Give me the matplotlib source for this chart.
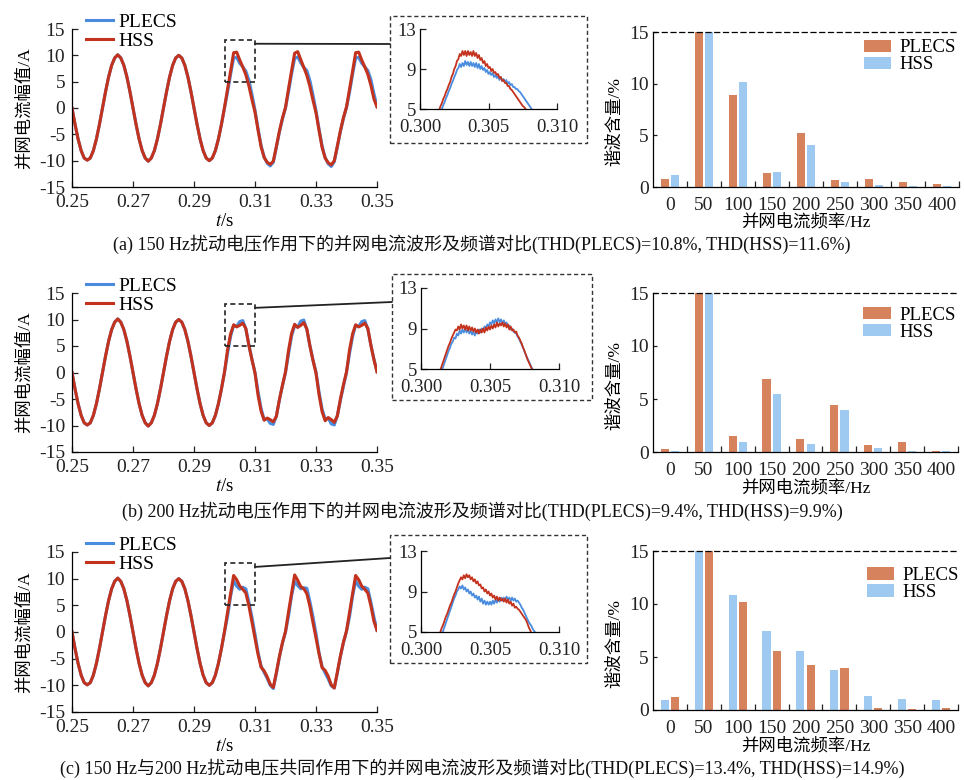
import numpy as np
import matplotlib.pyplot as plt
from matplotlib.patches import Rectangle, ConnectionPatch

plt.rcParams['font.family'] = ['Liberation Serif', 'Noto Sans CJK SC']
plt.rcParams['mathtext.fontset'] = 'stix'
plt.rcParams['axes.unicode_minus'] = False
plt.rcParams['axes.linewidth'] = 0.9
plt.rcParams['xtick.direction'] = 'in'
plt.rcParams['ytick.direction'] = 'in'

# ---- time-domain waveforms, sampled every 1 ms from 0.250 s to 0.350 s ----
# steady state before the disturbance (0.250 ... 0.299 s), same in all cases
i_pre = [0.0, -3.1, -5.9, -8.1, -9.5, -9.9, -9.5, -8.1, -5.9, -3.1,
         0.0, 3.1, 5.9, 8.1, 9.5, 10.1, 9.5, 8.1, 5.9, 3.1,
         0.0, -3.1, -5.9, -8.1, -9.5, -10.1, -9.5, -8.1, -5.9, -3.1,
         0.0, 3.1, 5.9, 8.1, 9.5, 10.0, 9.5, 8.1, 5.9, 3.1,
         0.0, -3.1, -5.9, -8.1, -9.5, -10.0, -9.5, -8.1, -5.9, -3.1]

# disturbed part (0.300 ... 0.350 s)
a_plecs = [0.0, 3.0, 6.4, 9.5, 9.6, 8.5, 7.8, 7.0, 5.3, 2.6,
           -0.4, -3.9, -7.1, -9.3, -10.5, -11.0, -10.3, -7.5, -4.6, -2.1,
           0.0, 3.1, 6.5, 9.4, 9.7, 8.6, 7.7, 7.1, 5.2, 2.5,
           -0.5, -4.0, -7.2, -9.4, -10.6, -11.1, -10.2, -7.4, -4.5, -2.0,
           0.1, 3.0, 6.4, 9.5, 9.6, 8.5, 7.8, 7.1, 5.4, 2.7, 0.3]
a_hss = [0.1, 3.6, 7.0, 10.5, 10.6, 9.1, 7.8, 6.3, 4.2, 1.6,
         -0.8, -4.2, -7.4, -9.4, -10.3, -10.7, -10.1, -7.3, -4.4, -1.9,
         0.1, 3.7, 7.1, 10.4, 10.7, 9.2, 7.7, 6.2, 4.1, 1.5,
         -0.9, -4.3, -7.5, -9.5, -10.4, -10.8, -10.0, -7.2, -4.3, -1.8,
         0.2, 3.6, 7.0, 10.5, 10.6, 9.1, 7.8, 6.4, 4.3, 1.7, 0.2]

b_plecs = [0.0, 3.6, 6.8, 8.9, 8.7, 9.6, 9.8, 8.2, 5.2, 2.5,
           0.0, -3.6, -6.8, -8.9, -8.7, -9.6, -9.8, -8.2, -5.2, -2.5,
           0.0, 3.5, 6.9, 8.8, 8.6, 9.7, 9.9, 8.1, 5.1, 2.4,
           0.1, -3.7, -6.9, -8.8, -8.6, -9.7, -9.9, -8.1, -5.3, -2.6,
           0.0, 3.6, 6.8, 8.9, 8.7, 9.6, 9.8, 8.2, 5.2, 2.5, 0.2]
b_hss = [0.1, 4.3, 7.3, 9.0, 8.6, 8.9, 9.3, 8.3, 5.1, 2.4,
         -0.1, -4.3, -7.3, -9.0, -8.6, -8.9, -9.3, -8.3, -5.1, -2.4,
         0.1, 4.2, 7.4, 9.1, 8.5, 8.9, 9.4, 8.2, 5.0, 2.3,
         -0.1, -4.2, -7.4, -9.1, -8.5, -8.9, -9.4, -8.2, -5.0, -2.3,
         0.1, 4.3, 7.3, 9.0, 8.6, 8.9, 9.3, 8.3, 5.1, 2.4, 0.1]

c_plecs = [0.0, 2.9, 6.7, 9.6, 8.6, 8.0, 8.4, 8.1, 5.6, 2.8,
           -0.4, -3.8, -6.4, -7.6, -8.7, -10.0, -10.6, -7.8, -4.7, -2.1,
           0.0, 3.0, 6.8, 9.5, 8.7, 8.1, 8.3, 8.2, 5.7, 2.9,
           -0.3, -3.9, -6.5, -7.7, -8.8, -10.1, -10.5, -7.7, -4.6, -2.0,
           0.1, 2.9, 6.7, 9.6, 8.6, 8.0, 8.4, 8.1, 5.6, 2.8, 0.3]
c_hss = [0.1, 3.7, 7.2, 10.6, 9.8, 8.6, 8.0, 7.3, 4.9, 1.9,
         -1.2, -4.2, -6.6, -7.3, -8.4, -9.8, -10.4, -7.6, -4.6, -2.0,
         0.1, 3.8, 7.3, 10.7, 9.7, 8.5, 8.1, 7.2, 4.8, 1.8,
         -1.1, -4.1, -6.7, -7.2, -8.3, -9.9, -10.5, -7.5, -4.5, -1.9,
         0.2, 3.7, 7.2, 10.6, 9.8, 8.6, 8.0, 7.3, 4.9, 2.0, 0.3]

# ---- zoomed waveforms, sampled every 0.1 ms from 0.3010 s to 0.3090 s ----
za_plecs = [3.0, 3.3, 3.7, 4.0, 4.4, 4.7, 5.0, 5.4, 5.7, 6.1,
            6.4, 6.8, 7.1, 7.5, 7.8, 8.2, 8.5, 8.9, 9.1, 9.5,
            9.2, 9.6, 9.3, 9.8, 9.4, 9.7, 9.3, 9.7, 9.3, 9.6,
            9.2, 9.6, 9.1, 9.5, 9.0, 9.3, 8.9, 9.1, 8.7, 8.9,
            8.5, 8.7, 8.4, 8.6, 8.2, 8.4, 8.1, 8.3, 7.9, 8.2,
            7.8, 8.0, 7.7, 7.9, 7.5, 7.7, 7.4, 7.5, 7.2, 7.2,
            7.0, 7.0, 6.8, 6.7, 6.5, 6.3, 6.1, 5.9, 5.7, 5.5,
            5.3, 5.1, 4.9, 4.6, 4.3, 4.0, 3.7, 3.4, 3.1, 2.8,
            2.5]
za_hss = [3.6, 3.9, 4.3, 4.6, 4.9, 5.3, 5.6, 6.0, 6.3, 6.7,
          7.0, 7.4, 7.7, 8.2, 8.5, 9.0, 9.3, 9.8, 10.0, 10.5,
          10.3, 10.8, 10.4, 10.8, 10.3, 10.8, 10.4, 10.7, 10.3, 10.8,
          10.3, 10.6, 10.1, 10.4, 9.9, 10.1, 9.6, 9.8, 9.3, 9.5,
          9.1, 9.2, 8.8, 9.0, 8.6, 8.7, 8.4, 8.5, 8.1, 8.2,
          7.8, 7.9, 7.6, 7.6, 7.3, 7.3, 7.0, 6.9, 6.7, 6.5,
          6.3, 6.1, 5.9, 5.7, 5.5, 5.3, 5.2, 5.0, 4.8, 4.5,
          4.2, 3.9, 3.6, 3.3, 3.0, 2.7, 2.4, 2.1, 1.8, 1.5,
          1.2]
zb_plecs = [3.2, 3.6, 3.9, 4.3, 4.6, 4.9, 5.2, 5.6, 6.0, 6.4,
            6.8, 7.1, 7.5, 7.7, 8.1, 8.0, 8.5, 8.3, 8.8, 8.5,
            8.9, 8.6, 9.0, 8.6, 8.9, 8.5, 8.8, 8.4, 8.7, 8.3,
            8.7, 8.5, 8.9, 8.6, 9.0, 8.8, 9.2, 9.0, 9.4, 9.2,
            9.6, 9.4, 9.8, 9.5, 9.9, 9.6, 10.0, 9.6, 9.9, 9.5,
            9.8, 9.4, 9.6, 9.2, 9.3, 8.9, 9.0, 8.7, 8.6, 8.5,
            8.2, 8.0, 7.7, 7.4, 7.1, 6.7, 6.4, 6.1, 5.8, 5.5,
            5.2, 4.9, 4.6, 4.3, 4.0, 3.7, 3.4, 3.1, 2.8, 2.5,
            2.2]
zb_hss = [3.6, 4.0, 4.3, 4.6, 4.9, 5.3, 5.7, 6.1, 6.5, 6.9,
          7.3, 7.6, 8.0, 8.3, 8.6, 8.9, 8.8, 9.2, 8.9, 9.4,
          9.0, 9.3, 8.9, 9.3, 8.8, 9.2, 8.8, 9.1, 8.7, 9.0,
          8.6, 8.9, 8.5, 8.9, 8.6, 9.0, 8.6, 9.1, 8.8, 9.2,
          8.9, 9.3, 9.0, 9.4, 9.1, 9.6, 9.2, 9.5, 9.3, 9.6,
          9.2, 9.5, 9.1, 9.4, 8.9, 9.2, 8.8, 8.9, 8.6, 8.7,
          8.3, 8.1, 7.8, 7.5, 7.1, 6.8, 6.4, 6.0, 5.7, 5.4,
          5.1, 4.8, 4.5, 4.2, 3.9, 3.6, 3.3, 3.0, 2.7, 2.4,
          2.1]
zc_plecs = [2.9, 3.3, 3.7, 4.1, 4.4, 4.8, 5.1, 5.5, 5.9, 6.3,
            6.7, 7.1, 7.5, 7.9, 8.3, 8.6, 9.0, 9.2, 9.5, 9.3,
            9.6, 9.2, 9.4, 9.0, 9.2, 8.8, 9.0, 8.6, 8.8, 8.4,
            8.6, 8.2, 8.5, 8.0, 8.3, 7.8, 8.1, 7.7, 8.0, 7.7,
            8.0, 7.7, 8.1, 7.8, 8.2, 7.9, 8.3, 8.0, 8.4, 8.1,
            8.4, 8.1, 8.5, 8.2, 8.4, 8.1, 8.4, 8.1, 8.3, 8.0,
            8.1, 7.9, 7.7, 7.4, 7.2, 6.9, 6.6, 6.3, 6.0, 5.8,
            5.6, 5.3, 5.1, 4.9, 4.6, 4.3, 4.0, 3.7, 3.4, 3.1,
            2.8]
zc_hss = [3.7, 4.1, 4.4, 4.7, 5.0, 5.4, 5.7, 6.1, 6.5, 6.8,
          7.2, 7.6, 7.9, 8.3, 8.7, 9.0, 9.4, 9.8, 10.1, 10.4,
          10.2, 10.6, 10.3, 10.7, 10.4, 10.6, 10.2, 10.4, 10.0, 10.2,
          9.8, 10.0, 9.6, 9.7, 9.3, 9.4, 9.0, 9.2, 8.8, 9.0,
          8.6, 8.8, 8.4, 8.6, 8.2, 8.5, 8.1, 8.4, 8.1, 8.3,
          8.0, 8.3, 7.9, 8.2, 7.8, 8.0, 7.6, 7.8, 7.4, 7.5,
          7.3, 7.2, 7.0, 6.8, 6.6, 6.4, 6.2, 5.9, 5.5, 5.2,
          4.9, 4.6, 4.3, 4.0, 3.7, 3.4, 3.1, 2.8, 2.5, 2.2,
          1.9]

# ---- harmonic spectra (%), 50 Hz fundamental is 100 % and runs off the axis ----
freq_labels = ['0', '50', '100', '150', '200', '250', '300', '350', '400']
a_bar_plecs = [0.75, 100, 8.9, 1.35, 5.2, 0.7, 0.8, 0.5, 0.3]
a_bar_hss = [1.2, 100, 10.15, 1.45, 4.1, 0.45, 0.15, 0.12, 0.12]
b_bar_plecs = [0.25, 100, 1.5, 6.85, 1.25, 4.4, 0.62, 0.95, 0.05]
b_bar_hss = [0.05, 100, 0.95, 5.45, 0.72, 3.95, 0.35, 0.12, 0.05]
c_bar_plecs = [1.25, 100, 10.2, 5.6, 4.25, 4.0, 0.15, 0.1, 0.15]
c_bar_hss = [0.95, 100, 10.85, 7.45, 5.6, 3.75, 1.35, 1.05, 0.95]

captions = [
    '(a) 150 Hz扰动电压作用下的并网电流波形及频谱对比(THD(PLECS)=10.8%, THD(HSS)=11.6%)',
    '(b) 200 Hz扰动电压作用下的并网电流波形及频谱对比(THD(PLECS)=9.4%, THD(HSS)=9.9%)',
    '(c) 150 Hz与200 Hz扰动电压共同作用下的并网电流波形及频谱对比(THD(PLECS)=13.4%, THD(HSS)=14.9%)',
]

waves_plecs = [a_plecs, b_plecs, c_plecs]
waves_hss = [a_hss, b_hss, c_hss]
zooms_plecs = [za_plecs, zb_plecs, zc_plecs]
zooms_hss = [za_hss, zb_hss, zc_hss]
bars_plecs = [a_bar_plecs, b_bar_plecs, c_bar_plecs]
bars_hss = [a_bar_hss, b_bar_hss, c_bar_hss]
plecs_left = [True, True, False]

t_main = 0.25 + 0.001 * np.arange(len(i_pre) + len(a_plecs))
t_zoom = 0.3010 + 0.0001 * np.arange(len(za_plecs))

# ---- layout (pixel boxes: left, top, right, bottom) ----
W, H = 964, 780
main_boxes = [(72, 29, 377, 187), (72, 293, 377, 452), (72, 552, 377, 712)]
inset_boxes = [(420, 29, 557, 109), (421, 288, 559, 369), (421, 551, 559, 632)]
frame_boxes = [(390, 16, 587, 143), (392, 274, 592, 400), (390, 535, 587, 663)]
bar_boxes = [(653, 32, 959, 187), (653, 293, 958, 452), (653, 551, 958, 710)]
link_y = [44, 302, 558]
caption_y = [244, 511, 768]
bar_leg_xy = [(0.69, 0.842), (0.69, 0.808), (0.70, 0.792)]

C_LINE_PLECS = '#4a8ddf'
C_LINE_HSS = '#c3321d'
C_BAR_PLECS = '#d6825d'
C_BAR_HSS = '#9ecaf1'
C_AX = '#222222'


def px_box(l, t, r, b):
    return [l / W, 1 - b / H, (r - l) / W, (b - t) / H]


fig = plt.figure(figsize=(W / 100, H / 100), dpi=100)
fig.patch.set_facecolor('white')

for p in range(3):
    # main waveform
    ax = fig.add_axes(px_box(*main_boxes[p]))
    ax.plot(t_main, np.r_[i_pre, waves_plecs[p]], color=C_LINE_PLECS, lw=2.2, label='PLECS')
    ax.plot(t_main, np.r_[i_pre, waves_hss[p]], color=C_LINE_HSS, lw=2.2, label='HSS')
    ax.set_xlim(0.25, 0.35)
    ax.set_ylim(-15, 15)
    t_ticks = [0.25, 0.27, 0.29, 0.31, 0.33, 0.35]
    ax.set_xticks(t_ticks, ['%.2f' % v for v in t_ticks])
    ax.set_yticks(range(-15, 16, 5))
    ax.tick_params(labelsize=14, length=4, width=0.9, colors=C_AX, pad=5)
    for s in ['top', 'right']:
        ax.spines[s].set_visible(False)
    ax.set_xlabel('$t$/s', fontsize=13.5)
    ax.xaxis.set_label_coords(0.5, -0.165)
    ax.set_ylabel('并网电流幅值/A', fontsize=12.5)
    ax.yaxis.set_label_coords(-0.13, 0.5)
    ax.legend(loc='center left', bbox_to_anchor=(0.046, 0.984), frameon=False,
              fontsize=14, handlelength=1.4, handletextpad=0.25,
              labelspacing=0.05, borderpad=0, borderaxespad=0)
    ax.add_patch(Rectangle((0.300, 5), 0.010, 8, fill=False, ls=(0, (3, 2)),
                           lw=1.2, ec=C_AX, zorder=5))

    # zoomed view
    ins = fig.add_axes(px_box(*inset_boxes[p]))
    ins.plot(t_zoom, zooms_plecs[p], color=C_LINE_PLECS, lw=1.3)
    ins.plot(t_zoom, zooms_hss[p], color=C_LINE_HSS, lw=1.3)
    ins.set_xlim(0.300, 0.310)
    ins.set_ylim(5, 13)
    ins.set_xticks([0.300, 0.305, 0.310], ['0.300', '0.305', '0.310'])
    ins.set_yticks([5, 9, 13])
    ins.tick_params(labelsize=13.5, length=4, width=0.9, colors=C_AX)
    ins.tick_params(axis='x', pad=7)
    ins.tick_params(axis='y', pad=3)
    for s in ['top', 'right']:
        ins.spines[s].set_visible(False)

    l, t, r, b = frame_boxes[p]
    fig.add_artist(Rectangle((l / W, 1 - b / H), (r - l) / W, (b - t) / H,
                             transform=fig.transFigure, fill=False,
                             ls=(0, (3, 2)), lw=1.0, ec='#333333'))
    fig.add_artist(ConnectionPatch(xyA=(0.310, 12.2), coordsA=ax.transData,
                                   xyB=(l / W, 1 - link_y[p] / H),
                                   coordsB='figure fraction',
                                   color=C_AX, lw=1.3))

    # harmonic spectrum
    bx = fig.add_axes(px_box(*bar_boxes[p]))
    x = np.arange(len(freq_labels))
    off = -0.15 if plecs_left[p] else 0.15
    bx.bar(x + off, bars_plecs[p], width=0.24, color=C_BAR_PLECS, label='PLECS')
    bx.bar(x - off, bars_hss[p], width=0.24, color=C_BAR_HSS, label='HSS')
    bx.set_xlim(-0.5, len(freq_labels) - 0.5)
    bx.set_ylim(0, 15)
    bx.set_xticks(x, freq_labels)
    bx.set_xticks(x + 0.5, minor=True)
    bx.set_yticks([0, 5, 10, 15])
    bx.tick_params(axis='x', which='major', length=0, pad=7, labelsize=14, colors=C_AX)
    bx.tick_params(axis='x', which='minor', length=4, width=0.9, colors=C_AX)
    bx.tick_params(axis='y', length=3, width=0.9, pad=3, labelsize=14, colors=C_AX)
    bx.spines['right'].set_visible(False)
    bx.spines['top'].set_linestyle((0, (4, 3)))
    bx.spines['top'].set_linewidth(0.9)
    bx.set_xlabel('并网电流频率/Hz', fontsize=12.5)
    bx.xaxis.set_label_coords(0.5, -0.175)
    bx.set_ylabel('谐波含量/%', fontsize=12.5)
    bx.yaxis.set_label_coords(-0.098, 0.42)
    bx.legend(loc='center left', bbox_to_anchor=bar_leg_xy[p], frameon=False,
              fontsize=13.5, handlelength=1.45, handleheight=0.65,
              handletextpad=0.45, labelspacing=0.0, borderpad=0, borderaxespad=0)

    fig.text(0.5, 1 - caption_y[p] / H, captions[p], ha='center', va='center',
             fontsize=13, color='#111111')

fig.savefig('out.png', dpi=100)
